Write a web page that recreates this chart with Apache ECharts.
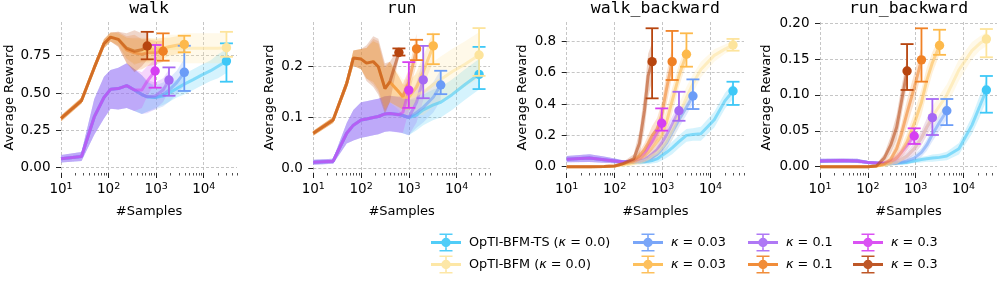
<!DOCTYPE html>
<html><head><meta charset="utf-8">
<script src="https://cdn.jsdelivr.net/npm/echarts@6/dist/echarts.min.js"></script>
<style>html,body{margin:0;padding:0;background:#fff}#c{width:997px;height:282px}</style>
</head><body><div id="c"></div>
<script>
// ---------- DATA ----------
const KEYS = ['ts0','ts003','ts01','ts03','bfm0','bfm003','bfm01','bfm03'];
const LABELS = {
  ts0: 'OpTI-BFM-TS ({i|κ} = 0.0)', ts003: '{i|κ} = 0.03', ts01: '{i|κ} = 0.1', ts03: '{i|κ} = 0.3',
  bfm0: 'OpTI-BFM ({i|κ} = 0.0)', bfm003: '{i|κ} = 0.03', bfm01: '{i|κ} = 0.1', bfm03: '{i|κ} = 0.3'
};
const TITLES = ['walk', 'run', 'walk_backward', 'run_backward'];
const MAJOR_X = [10, 100, 1000, 10000];
const MINOR_X = [20,30,40,50,60,70,80,90,200,300,400,500,600,700,800,900,2000,3000,4000,5000,6000,7000,8000,9000,20000,30000,40000,50000];

// walk
const walk_x = [10, 27, 50, 80, 110, 160, 240, 350, 500, 650, 950, 1400, 1860, 2700, 3900, 6000, 9000, 14000, 20000, 30000];
const walk_mean = [
  [0.06, 0.075, 0.34, 0.47, 0.525, 0.53, 0.55, 0.52, 0.49, 0.475, 0.47, 0.48, 0.50, 0.53, 0.56, 0.59, 0.62, 0.65, 0.68, 0.714],
  [0.06, 0.075, 0.34, 0.47, 0.525, 0.53, 0.55, 0.52, 0.49, 0.475, 0.47, 0.49, 0.52, 0.57, 0.639],
  [0.06, 0.075, 0.34, 0.47, 0.525, 0.53, 0.55, 0.52, 0.49, 0.475, 0.48, 0.52, 0.587],
  [0.06, 0.075, 0.34, 0.47, 0.525, 0.53, 0.55, 0.52, 0.52, 0.58, 0.648],
  [0.33, 0.45, 0.67, 0.83, 0.875, 0.86, 0.80, 0.78, 0.78, 0.78, 0.79, 0.79, 0.80, 0.80, 0.80, 0.80, 0.80, 0.80, 0.80, 0.804],
  [0.33, 0.45, 0.67, 0.83, 0.875, 0.86, 0.80, 0.78, 0.79, 0.79, 0.79, 0.80, 0.81, 0.82, 0.826],
  [0.33, 0.45, 0.67, 0.83, 0.875, 0.86, 0.79, 0.77, 0.76, 0.77, 0.77, 0.78],
  [0.33, 0.45, 0.67, 0.83, 0.875, 0.86, 0.80, 0.78, 0.79, 0.815]
];
const walk_spread = [
  [0.025, 0.03, 0.12, 0.14, 0.13, 0.14, 0.15, 0.14, 0.13, 0.1, 0.07, 0.06, 0.06, 0.06, 0.07, 0.07, 0.07, 0.07, 0.08, 0.08],
  [0.025, 0.03, 0.12, 0.14, 0.13, 0.14, 0.15, 0.14, 0.13, 0.1, 0.08, 0.08, 0.08, 0.08, 0.09],
  [0.025, 0.03, 0.12, 0.14, 0.13, 0.14, 0.15, 0.14, 0.13, 0.11, 0.09, 0.08, 0.07],
  [0.025, 0.03, 0.12, 0.14, 0.13, 0.14, 0.15, 0.14, 0.12, 0.1, 0.08],
  [0.02, 0.02, 0.025, 0.03, 0.03, 0.04, 0.07, 0.08, 0.08, 0.08, 0.08, 0.08, 0.09, 0.09, 0.1, 0.1, 0.1, 0.1, 0.1, 0.1],
  [0.02, 0.02, 0.025, 0.03, 0.03, 0.04, 0.07, 0.09, 0.08, 0.08, 0.07, 0.07, 0.06, 0.06, 0.06],
  [0.02, 0.02, 0.025, 0.03, 0.03, 0.05, 0.09, 0.12, 0.1, 0.09, 0.08, 0.07],
  [0.02, 0.02, 0.025, 0.03, 0.03, 0.05, 0.1, 0.14, 0.11, 0.09]
];
const walk_eb_x  = [30000, 3900, 1860, 950, 30000, 3900, 1400, 650];
const walk_eb_y  = [0.714, 0.639, 0.587, 0.648, 0.804, 0.826, 0.78, 0.815];
const walk_eb_lo = [0.576, 0.514, 0.482, 0.536, 0.743, 0.773, 0.717, 0.726];
const walk_eb_hi = [0.833, 0.817, 0.672, 0.822, 0.91, 0.884, 0.90, 0.91];
const walk_yticks = [0, 0.25, 0.5, 0.75];

// run
const run_x = [10, 26, 50, 69, 100, 130, 180, 230, 316, 400, 620, 750, 1000, 1450, 2000, 3250, 4650, 8000, 15000, 29500];
const run_mean = [
  [0.012, 0.014, 0.069, 0.085, 0.095, 0.097, 0.1, 0.102, 0.107, 0.108, 0.106, 0.104, 0.1, 0.105, 0.115, 0.125, 0.13, 0.145, 0.165, 0.185],
  [0.012, 0.014, 0.069, 0.085, 0.095, 0.097, 0.1, 0.102, 0.107, 0.108, 0.106, 0.104, 0.1, 0.11, 0.12, 0.14, 0.164],
  [0.012, 0.014, 0.069, 0.085, 0.095, 0.097, 0.1, 0.102, 0.107, 0.108, 0.105, 0.104, 0.1, 0.13, 0.174],
  [0.012, 0.014, 0.069, 0.085, 0.095, 0.097, 0.1, 0.102, 0.107, 0.108, 0.106, 0.11, 0.154],
  [0.069, 0.095, 0.167, 0.217, 0.215, 0.207, 0.21, 0.2, 0.157, 0.17, 0.15, 0.14, 0.14, 0.145, 0.15, 0.165, 0.175, 0.19, 0.205, 0.223],
  [0.069, 0.095, 0.167, 0.217, 0.215, 0.207, 0.21, 0.2, 0.157, 0.17, 0.15, 0.14, 0.14, 0.16, 0.19, 0.241],
  [0.069, 0.095, 0.167, 0.217, 0.215, 0.207, 0.21, 0.2, 0.157, 0.17, 0.15, 0.141, 0.17, 0.235],
  [0.069, 0.095, 0.167, 0.217, 0.215, 0.207, 0.21, 0.2, 0.157, 0.17, 0.228]
];
const run_spread = [
  [0.005, 0.005, 0.02, 0.03, 0.035, 0.035, 0.035, 0.035, 0.035, 0.035, 0.035, 0.035, 0.035, 0.03, 0.03, 0.03, 0.03, 0.03, 0.03, 0.03],
  [0.005, 0.005, 0.02, 0.03, 0.035, 0.035, 0.035, 0.035, 0.035, 0.035, 0.035, 0.035, 0.035, 0.03, 0.03, 0.03, 0.03],
  [0.005, 0.005, 0.02, 0.03, 0.035, 0.035, 0.035, 0.035, 0.035, 0.035, 0.035, 0.035, 0.035, 0.04, 0.04],
  [0.005, 0.005, 0.02, 0.03, 0.035, 0.035, 0.035, 0.035, 0.035, 0.035, 0.035, 0.04, 0.04],
  [0.005, 0.006, 0.01, 0.015, 0.02, 0.03, 0.04, 0.045, 0.04, 0.04, 0.035, 0.035, 0.035, 0.04, 0.045, 0.045, 0.045, 0.045, 0.045, 0.045],
  [0.005, 0.006, 0.01, 0.015, 0.02, 0.03, 0.04, 0.045, 0.04, 0.04, 0.03, 0.025, 0.025, 0.03, 0.03, 0.03],
  [0.005, 0.006, 0.01, 0.015, 0.02, 0.03, 0.045, 0.05, 0.045, 0.04, 0.03, 0.025, 0.025, 0.03],
  [0.005, 0.006, 0.01, 0.015, 0.02, 0.035, 0.05, 0.055, 0.05, 0.04, 0.01]
];
const run_eb_x  = [29500, 4650, 2000, 1000, 29500, 3250, 1450, 620];
const run_eb_y  = [0.185, 0.164, 0.174, 0.154, 0.223, 0.241, 0.235, 0.228];
const run_eb_lo = [0.156, 0.146, 0.138, 0.119, 0.182, 0.205, 0.213, 0.222];
const run_eb_hi = [0.239, 0.192, 0.241, 0.209, 0.276, 0.264, 0.253, 0.236];
const run_yticks = [0, 0.1, 0.2];

// walk_backward
const wb_x = [10, 30, 60, 100, 150, 250, 330, 420, 500, 605, 770, 960, 1200, 1585, 2200, 3150, 4300, 6300, 12000, 20000, 29500];
const wb_mean = [
  [0.048, 0.055, 0.045, 0.037, 0.03, 0.03, 0.03, 0.032, 0.035, 0.04, 0.05, 0.07, 0.09, 0.12, 0.16, 0.2, 0.205, 0.21, 0.3, 0.42, 0.483],
  [0.048, 0.055, 0.045, 0.037, 0.03, 0.03, 0.035, 0.04, 0.05, 0.06, 0.08, 0.11, 0.15, 0.22, 0.3, 0.38, 0.451],
  [0.048, 0.055, 0.045, 0.037, 0.03, 0.03, 0.035, 0.045, 0.06, 0.08, 0.11, 0.15, 0.2, 0.27, 0.357],
  [0.048, 0.055, 0.045, 0.037, 0.03, 0.035, 0.05, 0.08, 0.12, 0.16, 0.22, 0.277],
  [0.0, 0.0, 0.002, 0.004, 0.01, 0.02, 0.03, 0.04, 0.05, 0.07, 0.09, 0.12, 0.16, 0.23, 0.33, 0.44, 0.53, 0.62, 0.71, 0.75, 0.776],
  [0.0, 0.0, 0.002, 0.005, 0.015, 0.03, 0.05, 0.07, 0.09, 0.12, 0.16, 0.2, 0.28, 0.42, 0.58, 0.717],
  [0.0, 0.0, 0.002, 0.005, 0.02, 0.04, 0.07, 0.11, 0.15, 0.2, 0.24, 0.33, 0.49, 0.67],
  [0.0, 0.0, 0.002, 0.005, 0.02, 0.05, 0.15, 0.36, 0.58, 0.67]
];
const wb_spread = [
  [0.02, 0.025, 0.02, 0.015, 0.012, 0.012, 0.015, 0.015, 0.02, 0.02, 0.025, 0.03, 0.035, 0.04, 0.04, 0.04, 0.04, 0.045, 0.05, 0.05, 0.05],
  [0.02, 0.025, 0.02, 0.015, 0.012, 0.012, 0.015, 0.02, 0.025, 0.03, 0.035, 0.04, 0.05, 0.05, 0.05, 0.05, 0.05],
  [0.02, 0.025, 0.02, 0.015, 0.012, 0.012, 0.015, 0.02, 0.03, 0.035, 0.04, 0.05, 0.05, 0.05, 0.05],
  [0.02, 0.025, 0.02, 0.015, 0.012, 0.015, 0.02, 0.03, 0.04, 0.05, 0.05, 0.05],
  [0.003, 0.003, 0.003, 0.004, 0.006, 0.01, 0.015, 0.02, 0.02, 0.03, 0.03, 0.04, 0.05, 0.06, 0.07, 0.07, 0.06, 0.05, 0.04, 0.03, 0.03],
  [0.003, 0.003, 0.003, 0.004, 0.008, 0.015, 0.02, 0.03, 0.04, 0.05, 0.06, 0.07, 0.08, 0.08, 0.07, 0.06],
  [0.003, 0.003, 0.003, 0.004, 0.01, 0.02, 0.03, 0.04, 0.05, 0.06, 0.07, 0.08, 0.1, 0.09],
  [0.003, 0.003, 0.003, 0.004, 0.01, 0.03, 0.08, 0.12, 0.14, 0.12]
];
const wb_eb_x  = [29500, 4300, 2200, 960, 29500, 3150, 1585, 605];
const wb_eb_y  = [0.483, 0.451, 0.357, 0.277, 0.776, 0.717, 0.67, 0.67];
const wb_eb_lo = [0.394, 0.368, 0.293, 0.23, 0.74, 0.638, 0.553, 0.436];
const wb_eb_hi = [0.542, 0.557, 0.478, 0.372, 0.815, 0.851, 0.866, 0.883];
const wb_yticks = [0, 0.2, 0.4, 0.6, 0.8];

// run_backward
const rb_x = [10, 30, 60, 100, 150, 220, 300, 400, 500, 660, 930, 1320, 1700, 2230, 3150, 4470, 8000, 15000, 22000, 30000];
const rb_mean = [
  [0.008, 0.0085, 0.008, 0.006, 0.005, 0.004, 0.004, 0.005, 0.005, 0.006, 0.008, 0.01, 0.011, 0.012, 0.013, 0.015, 0.025, 0.058, 0.085, 0.107],
  [0.008, 0.0085, 0.008, 0.006, 0.005, 0.004, 0.004, 0.005, 0.006, 0.008, 0.012, 0.02, 0.03, 0.045, 0.062, 0.078],
  [0.008, 0.0085, 0.008, 0.006, 0.005, 0.004, 0.005, 0.007, 0.01, 0.015, 0.025, 0.04, 0.055, 0.068],
  [0.008, 0.0085, 0.008, 0.006, 0.005, 0.005, 0.007, 0.012, 0.02, 0.03, 0.043],
  [0.0, 0.0, 0.0, 0.0, 0.001, 0.002, 0.004, 0.006, 0.01, 0.015, 0.025, 0.04, 0.055, 0.07, 0.085, 0.1, 0.135, 0.162, 0.172, 0.178],
  [0.0, 0.0, 0.0, 0.0, 0.001, 0.003, 0.006, 0.012, 0.02, 0.035, 0.06, 0.09, 0.12, 0.145, 0.169],
  [0.0, 0.0, 0.0, 0.0, 0.001, 0.004, 0.01, 0.025, 0.045, 0.075, 0.11, 0.149],
  [0.0, 0.0, 0.0, 0.0, 0.001, 0.012, 0.03, 0.055, 0.09, 0.1335]
];
const rb_spread = [
  [0.003, 0.003, 0.003, 0.002, 0.002, 0.002, 0.002, 0.002, 0.002, 0.003, 0.003, 0.004, 0.004, 0.005, 0.005, 0.006, 0.008, 0.012, 0.015, 0.015],
  [0.003, 0.003, 0.003, 0.002, 0.002, 0.002, 0.002, 0.003, 0.003, 0.004, 0.005, 0.006, 0.008, 0.01, 0.012, 0.012],
  [0.003, 0.003, 0.003, 0.002, 0.002, 0.002, 0.003, 0.004, 0.005, 0.006, 0.008, 0.01, 0.012, 0.012],
  [0.003, 0.003, 0.003, 0.002, 0.002, 0.003, 0.004, 0.005, 0.006, 0.008, 0.008],
  [0.001, 0.001, 0.001, 0.001, 0.001, 0.002, 0.003, 0.004, 0.005, 0.006, 0.008, 0.01, 0.012, 0.014, 0.015, 0.015, 0.015, 0.012, 0.01, 0.01],
  [0.001, 0.001, 0.001, 0.001, 0.001, 0.002, 0.004, 0.006, 0.008, 0.012, 0.015, 0.018, 0.018, 0.015, 0.012],
  [0.001, 0.001, 0.001, 0.001, 0.001, 0.003, 0.006, 0.01, 0.014, 0.018, 0.02, 0.018],
  [0.001, 0.001, 0.001, 0.001, 0.002, 0.006, 0.012, 0.018, 0.02, 0.018]
];
const rb_eb_x  = [30000, 4470, 2230, 930, 30000, 3150, 1320, 660];
const rb_eb_y  = [0.107, 0.078, 0.0684, 0.0428, 0.178, 0.169, 0.149, 0.1335];
const rb_eb_lo = [0.0753, 0.058, 0.0442, 0.0317, 0.1526, 0.156, 0.1186, 0.107];
const rb_eb_hi = [0.1265, 0.0944, 0.0944, 0.0535, 0.192, 0.191, 0.193, 0.171];
const rb_yticks = [0, 0.05, 0.1, 0.15, 0.2];

// ---------- STYLE / LAYOUT ----------
const COLORS = ['#3ec8f7', '#6b9cf7', '#a669f4', '#d63ff2', '#fde49c', '#fdb94b', '#f08125', '#b7450f'];
const FONT = 'DejaVu Sans';
const GRID_LEFT = [61, 313.3, 566.7, 820];
const GRID_W = [176, 176.7, 177.3, 177];
const GRID_TOP = 22, GRID_H = 151;

const panels = [
  {x: walk_x, mean: walk_mean, spread: walk_spread, ex: walk_eb_x, ey: walk_eb_y, elo: walk_eb_lo, ehi: walk_eb_hi, ticks: walk_yticks, dec: 2, min: -0.0355, max: 0.976, gap: 44},
  {x: run_x, mean: run_mean, spread: run_spread, ex: run_eb_x, ey: run_eb_y, elo: run_eb_lo, ehi: run_eb_hi, ticks: run_yticks, dec: 1, min: -0.0092, max: 0.288, gap: 37.5},
  {x: wb_x, mean: wb_mean, spread: wb_spread, ex: wb_eb_x, ey: wb_eb_y, elo: wb_eb_lo, ehi: wb_eb_hi, ticks: wb_yticks, dec: 1, min: -0.040, max: 0.923, gap: 38},
  {x: rb_x, mean: rb_mean, spread: rb_spread, ex: rb_eb_x, ey: rb_eb_y, elo: rb_eb_lo, ehi: rb_eb_hi, ticks: rb_yticks, dec: 2, min: -0.0088, max: 0.2018, gap: 46.5}
];

const ICON = 'path://M0 7.6H30V10.4H0Z M14.2 0H15.8V18H14.2Z M8.5 0H21.5V1.6H8.5Z M8.5 16.4H21.5V18H8.5Z M10.3 9A4.7 4.7 0 1 1 19.7 9A4.7 4.7 0 1 1 10.3 9Z';

const gridLineStyle = {color: '#b8b8b8', width: 0.8, type: [3, 2]};
const grids = [], xAxes = [], yAxes = [], series = [], graphics = [];

// legend dummy series (named)
KEYS.forEach((k, i) => series.push({type: 'scatter', name: k, data: [], xAxisIndex: 0, yAxisIndex: 0, itemStyle: {color: COLORS[i]}}));

panels.forEach((p, i) => {
  grids.push({left: GRID_LEFT[i], top: GRID_TOP, width: GRID_W[i], height: GRID_H, outerBoundsMode: 'none', containLabel: false});
  xAxes.push({
    type: 'log', logBase: 10, gridIndex: i, min: 10, max: 50000, position: 'bottom',
    name: '#Samples', nameLocation: 'middle', nameGap: 32,
    nameTextStyle: {fontFamily: FONT, fontSize: 13, color: '#000'},
    axisLine: {show: false, onZero: false},
    axisTick: {show: true, customValues: MAJOR_X, length: 5, lineStyle: {color: '#222', width: 1}},
    axisLabel: {
      show: true, customValues: MAJOR_X, margin: 8.5,
      formatter: v => '{b|10}{s|' + Math.round(Math.log10(v)) + '}',
      rich: {
        b: {fontFamily: FONT, fontSize: 13.5, lineHeight: 16, color: '#000'},
        s: {fontFamily: FONT, fontSize: 9.5, lineHeight: 10, verticalAlign: 'top', color: '#000'}
      }
    },
    splitLine: {show: true, lineStyle: gridLineStyle},
    minorTick: {show: false}, minorSplitLine: {show: false}
  });
  xAxes.push({
    type: 'log', logBase: 10, gridIndex: i, min: 10, max: 50000, position: 'bottom',
    axisLine: {show: false, onZero: false},
    axisTick: {show: true, customValues: MINOR_X, length: 2.5, lineStyle: {color: '#222', width: 0.8}},
    axisLabel: {show: false}, splitLine: {show: false}
  });
  yAxes.push({
    type: 'value', gridIndex: i, min: p.min, max: p.max, position: 'left',
    name: 'Average Reward', nameLocation: 'middle', nameGap: p.gap,
    nameTextStyle: {fontFamily: FONT, fontSize: 13, color: '#000'},
    axisLine: {show: false, onZero: false},
    axisTick: {show: true, customValues: p.ticks, length: 5, lineStyle: {color: '#222', width: 1}},
    axisLabel: {customValues: p.ticks, margin: 10.5, fontFamily: FONT, fontSize: 13.5, color: '#000',
      formatter: v => v.toFixed(p.dec)},
    splitLine: {show: true, lineStyle: gridLineStyle}
  });
  graphics.push({type: 'text', x: GRID_LEFT[i] + GRID_W[i] / 2, y: 9,
    style: {text: TITLES[i], fontFamily: 'DejaVu Sans Mono', fontSize: 16.5, fill: '#000', textAlign: 'center', textVerticalAlign: 'middle'}});

  const xi = 2 * i, yi = i;
  KEYS.forEach((k, s) => {
    const m = p.mean[s], sp = p.spread[s], xs = p.x, color = COLORS[s], n = m.length;
    series.push({
      type: 'custom', xAxisIndex: xi, yAxisIndex: yi, silent: true, z: 2,
      data: m.map((v, j) => [xs[j], v]), encode: {x: 0, y: 1},
      renderItem: function (params, api) {
        if (params.dataIndex !== 0) return null;
        const up = [], dn = [];
        for (let j = 0; j < n; j++) {
          up.push(api.coord([xs[j], m[j] + sp[j]]));
          dn.push(api.coord([xs[j], m[j] - sp[j]]));
        }
        return {type: 'polygon', shape: {points: up.concat(dn.reverse())}, style: {fill: color, opacity: 0.22}};
      }
    });
    series.push({
      type: 'line', xAxisIndex: xi, yAxisIndex: yi, silent: true, z: 2,
      data: m.map((v, j) => [xs[j], v]), symbol: 'none', showSymbol: false,
      lineStyle: {color: color, width: 3, opacity: 0.55}, itemStyle: {color: color}
    });
  });
  series.push({
    type: 'custom', xAxisIndex: xi, yAxisIndex: yi, silent: true, z: 5,
    data: p.ex.map((v, j) => [v, p.ey[j], p.elo[j], p.ehi[j], j]), encode: {x: 0, y: 1},
    renderItem: function (params, api) {
      const c = COLORS[api.value(4)];
      const pt = api.coord([api.value(0), api.value(1)]);
      const lo = api.coord([api.value(0), api.value(2)]);
      const hi = api.coord([api.value(0), api.value(3)]);
      const st = {stroke: c, lineWidth: 1.8};
      return {type: 'group', children: [
        {type: 'line', shape: {x1: pt[0], y1: lo[1], x2: pt[0], y2: hi[1]}, style: st},
        {type: 'line', shape: {x1: pt[0] - 6.5, y1: lo[1], x2: pt[0] + 6.5, y2: lo[1]}, style: st},
        {type: 'line', shape: {x1: pt[0] - 6.5, y1: hi[1], x2: pt[0] + 6.5, y2: hi[1]}, style: st},
        {type: 'circle', shape: {cx: pt[0], cy: pt[1], r: 4.7}, style: {fill: c}}
      ]};
    }
  });
});

const LEG_COLS = [[0, 4], [1, 5], [2, 6], [3, 7]];
const LEG_LEFT = [431, 633, 748, 853];
const legends = LEG_COLS.map((col, c) => ({
  orient: 'vertical', left: LEG_LEFT[c], top: 233.5, padding: 0,
  itemWidth: 30, itemHeight: 18, itemGap: 4, selectedMode: false,
  data: col.map(k => ({name: KEYS[k], icon: ICON, itemStyle: {color: COLORS[k], opacity: 0.9}})),
  formatter: n => LABELS[n],
  textStyle: {fontFamily: FONT, fontSize: 12.8, color: '#000', padding: [0, 0, 0, 3],
    rich: {i: {fontFamily: FONT, fontStyle: 'italic', fontSize: 12.8, color: '#000'}}}
}));

const chart = echarts.init(document.getElementById('c'));
chart.setOption({
  animation: false,
  textStyle: {fontFamily: FONT},
  grid: grids, xAxis: xAxes, yAxis: yAxes, series: series,
  legend: legends, graphic: graphics
});
</script>
</body></html>
